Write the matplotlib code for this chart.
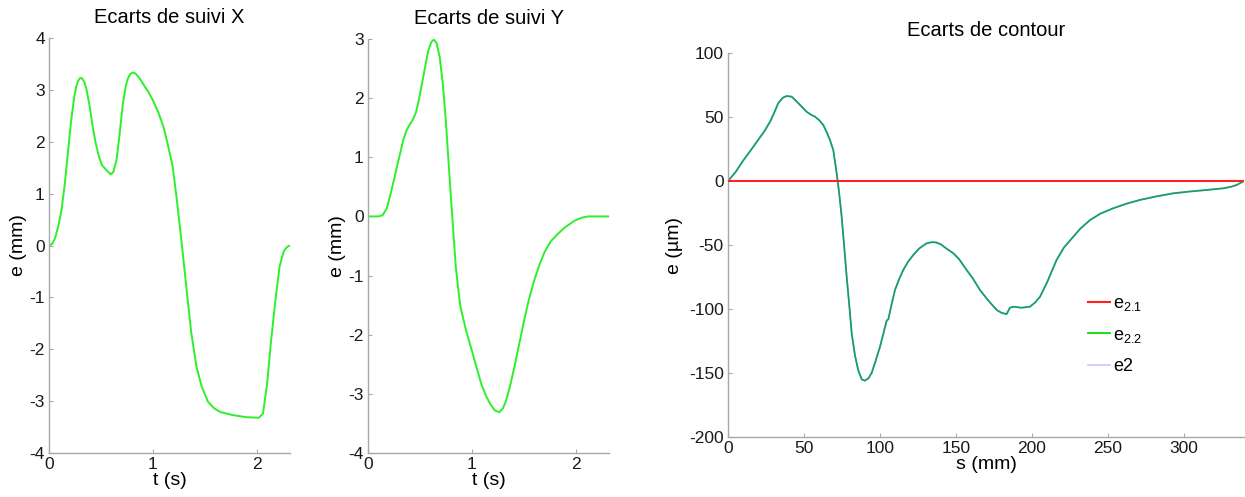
import matplotlib
matplotlib.use("Agg")
import matplotlib.pyplot as plt

plt.rcParams['font.family'] = ['Liberation Sans', 'DejaVu Sans']
plt.rcParams['mathtext.fontset'] = 'custom'
plt.rcParams['mathtext.rm'] = 'Liberation Sans'
plt.rcParams['mathtext.it'] = 'Liberation Sans'
plt.rcParams['axes.unicode_minus'] = False

# Ecarts de suivi X : t (s), e (mm)
tx = [0.00, 0.03, 0.06, 0.09, 0.12, 0.15, 0.18, 0.21, 0.24, 0.26, 0.28, 0.30,
      0.32, 0.34, 0.36, 0.39, 0.42, 0.45, 0.48, 0.51, 0.54, 0.57, 0.595, 0.62,
      0.65, 0.68, 0.71, 0.74, 0.76, 0.78, 0.80, 0.82, 0.84, 0.88, 0.92, 0.96,
      1.00, 1.05, 1.10, 1.14, 1.19, 1.23, 1.28, 1.325, 1.37, 1.42, 1.47, 1.53,
      1.59, 1.65, 1.77, 1.90, 2.02, 2.06, 2.10, 2.135, 2.18, 2.22, 2.26, 2.29, 2.32]
ex = [0.00, 0.03, 0.15, 0.38, 0.68, 1.15, 1.75, 2.35, 2.82, 3.05, 3.17, 3.23,
      3.22, 3.15, 3.02, 2.70, 2.30, 1.97, 1.72, 1.55, 1.48, 1.42, 1.37, 1.42,
      1.65, 2.15, 2.72, 3.08, 3.22, 3.30, 3.33, 3.33, 3.30, 3.20, 3.07, 2.95,
      2.80, 2.58, 2.30, 1.98, 1.53, 0.89, 0.00, -0.86, -1.69, -2.34, -2.72, -3.01,
      -3.14, -3.21, -3.27, -3.31, -3.32, -3.24, -2.66, -1.89, -1.05, -0.40, -0.11, -0.03, 0.00]

# Ecarts de suivi Y : t (s), e (mm)
ty = [0.00, 0.10, 0.14, 0.18, 0.22, 0.25, 0.28, 0.31, 0.34, 0.37, 0.40, 0.43,
      0.46, 0.49, 0.52, 0.55, 0.58, 0.61, 0.635, 0.66, 0.69, 0.72, 0.75, 0.78,
      0.80, 0.825, 0.845, 0.87, 0.89, 0.94, 0.99, 1.04, 1.09, 1.14, 1.18, 1.22,
      1.265, 1.30, 1.33, 1.37, 1.41, 1.46, 1.51, 1.55, 1.60, 1.65, 1.70, 1.76,
      1.83, 1.90, 1.99, 2.06, 2.12, 2.33]
ey = [0.00, 0.00, 0.02, 0.13, 0.40, 0.62, 0.85, 1.07, 1.30, 1.45, 1.55, 1.63,
      1.75, 1.97, 2.25, 2.53, 2.80, 2.95, 2.99, 2.93, 2.70, 2.25, 1.60, 0.80,
      0.28, -0.35, -0.85, -1.25, -1.53, -1.90, -2.21, -2.52, -2.83, -3.05, -3.18, -3.28,
      -3.31, -3.24, -3.11, -2.85, -2.54, -2.12, -1.70, -1.40, -1.08, -0.82, -0.60, -0.42,
      -0.29, -0.18, -0.07, -0.02, 0.00, 0.00]

# Ecarts de contour : s (mm), e (um)
s_c = [0, 5, 10, 15, 19, 24, 28, 31, 33, 36, 38.6, 41.9, 44, 47.4, 51.8, 55,
       57.2, 60, 62.7, 65, 67.1, 69.3, 71.5, 73, 74.8, 76.5, 78.1, 80, 81.4,
       83.5, 85.7, 88, 90.1, 92.5, 94.5, 97, 100, 102.5, 104.4, 105.5, 107.7,
       109.9, 112.5, 115.3, 118.5, 121.9, 126, 130.7, 134, 137, 140, 144, 148.3,
       152, 157, 161, 165.8, 171, 176.8, 180, 183.3, 185.5, 187.7, 193, 198.7,
       202, 205.3, 210, 216.2, 221, 227.2, 232, 238.2, 245, 253.5, 262, 271,
       282, 293, 304, 315, 326, 331, 334.7, 339.5]
e22 = [0, 7, 16, 24, 30.7, 39, 47, 55, 60.7, 65, 66.4, 65.9, 63.5, 59.4, 54, 51.5,
       50.3, 47.5, 43.7, 38, 32, 24, 6, -8, -28, -52, -75, -100, -119,
       -136, -148, -155, -156, -154, -150, -141, -129.5, -118, -109, -108, -96,
       -85, -77, -69.5, -63, -57.8, -52.5, -48.7, -47.8, -48, -49.5, -53, -56.5,
       -61, -69.5, -76, -85.2, -93, -100.8, -103, -104, -99, -98.2, -99, -98.2,
       -95, -90.4, -79, -61.7, -52, -43.5, -37, -30.5, -25.5, -21.3, -17.8, -14.8,
       -12, -9.6, -8.2, -7, -5.7, -4.5, -3.1, 0]
e2 = list(e22)  # e2 coincides with e2.2
s_21 = [0, 339.5]
e21 = [0, 0]

W, H = 1245, 497
fig = plt.figure(figsize=(W / 100, H / 100), dpi=100)

def px_axes(left, right, top, bottom):
    return fig.add_axes([left / W, 1 - bottom / H, (right - left) / W, (bottom - top) / H])

def style(ax):
    for side in ['top', 'right']:
        ax.spines[side].set_visible(False)
    for side in ['left', 'bottom']:
        ax.spines[side].set_color('#a8a8a8')
        ax.spines[side].set_linewidth(1.0)
    ax.tick_params(direction='in', length=3, width=0.8, color='#a8a8a8',
                   labelsize=12.5, labelcolor='#1a1a1a', pad=3)

green = '#2cf02c'

ax1 = px_axes(49, 290, 38, 453)
ax1.plot(tx, ex, color=green, lw=1.4)
ax1.set_xlim(0, 2.32)
ax1.set_ylim(-4, 4)
ax1.set_xticks([0, 1, 2])
ax1.set_yticks(range(-4, 5))
ax1.set_title('Ecarts de suivi X', fontsize=14.5, pad=11)
ax1.set_xlabel('t (s)', fontsize=14, labelpad=0)
ax1.set_ylabel('e (mm)', fontsize=14, labelpad=2)
style(ax1)

ax2 = px_axes(368, 609, 39, 453)
ax2.plot(ty, ey, color=green, lw=1.4)
ax2.set_xlim(0, 2.32)
ax2.set_ylim(-4, 3)
ax2.set_xticks([0, 1, 2])
ax2.set_yticks(range(-4, 4))
ax2.set_title('Ecarts de suivi Y', fontsize=14.5, pad=11)
ax2.set_xlabel('t (s)', fontsize=14, labelpad=0)
ax2.set_ylabel('e (mm)', fontsize=14, labelpad=2)
style(ax2)

ax3 = px_axes(728, 1244, 53, 437)
ax3.plot(s_21, e21, color='#ff2020', lw=1.5, label=r'$\mathrm{e_{2.1}}$', zorder=3)
ax3.plot(s_c, e22, color='#00e000', lw=1.3, label=r'$\mathrm{e_{2.2}}$')
ax3.plot(s_c, e2, color='#4848ff', lw=1.1, alpha=0.52, label='e2')
ax3.set_xlim(0, 339.5)
ax3.set_ylim(-200, 100)
ax3.set_xticks(range(0, 301, 50))
ax3.set_yticks(range(-200, 101, 50))
ax3.set_title('Ecarts de contour', fontsize=14.5, pad=12)
ax3.set_xlabel('s (mm)', fontsize=14, labelpad=0)
ax3.set_ylabel('e (µm)', fontsize=14, labelpad=4)
style(ax3)
leg = ax3.legend(loc='upper left', bbox_to_anchor=(1088 / W, 1 - 295 / H),
                 bbox_transform=fig.transFigure, frameon=False, fontsize=13,
                 borderpad=0, borderaxespad=0, handlelength=1.2, handletextpad=0.2,
                 labelspacing=0.75)
leg.get_lines()[2].set_alpha(0.35)

fig.savefig('out.png', dpi=100)
